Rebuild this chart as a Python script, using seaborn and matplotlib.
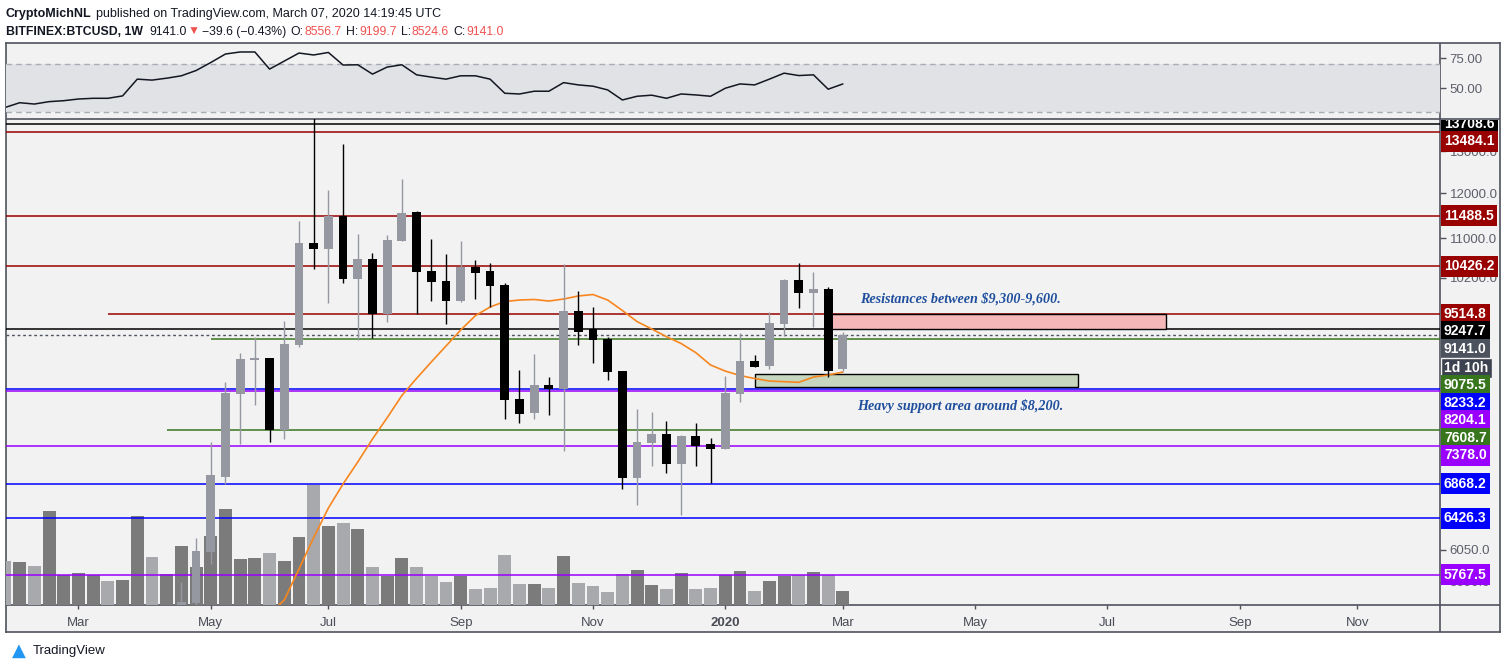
import matplotlib
matplotlib.use("Agg")
import matplotlib.pyplot as plt
import matplotlib.transforms as mtransforms
from matplotlib.patches import Rectangle
from matplotlib.ticker import FixedLocator, NullLocator
import numpy as np
import pandas as pd
import seaborn as sns

# ---------------- data (weekly BITFINEX:BTCUSD) ----------------
first_week = "2019-01-28"   # first weekly bar at the left edge
n_weeks = 98                # weeks spanned by the time axis

# candles visible in the price panel, week of 2019-04-22 .. 2020-03-02
candle_first = "2019-04-22"
opens = [5280, 5466, 6029, 6962, 8165, 8711, 8744, 7620, 8964, 10903, 10785, 11483,
         10181, 10573, 9509, 10950, 11571, 10333, 10136, 9754, 10418, 10333, 10065,
         8082, 7872, 8302, 8239, 9569, 9239, 9068, 8527, 6944, 7432, 7561, 7137, 7528,
         7413, 7342, 8160, 8693, 8609, 9332, 10155, 9911, 9981, 8556.7]
highs = [5692, 6193, 7442, 8345, 8828, 9103, 8744, 9388, 11373, 13880, 12071, 13185,
         11093, 10696, 11072, 12329, 11600, 10987, 10675, 10945, 10553, 10492, 10092,
         8545, 8806, 8430, 10472, 9943, 9643, 9098, 8527, 7928, 7882, 7748, 7543, 7718,
         7499, 8446, 9173, 8794, 9551, 10175, 10492, 10313, 10020, 9199.7]
lows = [5200, 5400, 5884, 6866, 7418, 7989, 7446, 7489, 8930, 10379, 9722, 10102,
        9056, 9091, 9374, 10950, 9509, 9760, 9338, 9741, 9798, 9649, 7777,
        7722, 7777, 7838, 7314, 8964, 8660, 8386, 6800, 6594, 7106, 7012, 6469, 7106,
        6878, 7342, 8036, 8598, 8561, 9121, 9625, 9279, 8430, 8524.6]
closes = [5477, 6037, 6985, 8175, 8727, 8744, 7620, 8982, 10903, 10785, 11483, 10181,
          10573, 9509, 10966, 11549, 10318, 10122, 9760, 10418, 10299, 10046, 8067,
          7853, 8302, 8239, 9569, 9196, 9056, 8516, 6944, 7442, 7561, 7137, 7528, 7385,
          7347, 8175, 8693, 8598, 9351, 10155, 9905, 9981, 8527, 9141.0]

# 20 week moving average (orange), from the week of 2019-06-03
ma_first = "2019-06-03"
ma20 = [5350, 5495, 5832, 6195, 6556, 6866, 7162, 7485, 7797, 8137, 8408, 8677, 8947,
        9226, 9484, 9643, 9745, 9773, 9783, 9754, 9792, 9849, 9877, 9773, 9578, 9377,
        9244, 9109, 8990, 8833, 8627, 8527, 8455, 8406, 8366, 8355, 8345, 8430, 8463, 8511]

# volume per week from the first week (arbitrary units)
volume = [44, 43, 39, 94, 30, 32, 30, 24, 25, 89, 48, 31, 59, 38,
          69, 96, 46, 47, 52, 44, 68, 120, 79, 82, 76, 38, 29, 47, 38,
          29, 23, 29, 16, 17, 50, 21, 21, 17, 49, 22, 19, 13, 31,
          35, 20, 16, 32, 16, 17, 30, 34, 14, 24, 29, 30, 33, 30, 14]
# up/down weeks before the first visible candle
early_up = [False, True, False, True, True, True, True, False, True, True, False, True]

# RSI per week from the first week
rsi = [33.7, 37.7, 36.6, 38.6, 39.4, 40.8, 41.4, 41.4, 43.4, 57.4, 56.6, 58.2, 60.2, 64.6,
       71.3, 78.4, 80.1, 80.1, 65.8, 72.5, 79.2, 77.6, 79.7, 69.2, 69.4, 61.6, 67.5, 69.4,
       61.0, 59.1, 57.4, 60.2, 60.2, 57.4, 45.6, 45.0, 47.3, 47.3, 54.5, 52.6, 51.5, 48.4,
       40.0, 43.1, 44.0, 41.4, 45.0, 44.2, 43.1, 49.8, 53.4, 52.6, 57.4, 62.4, 60.4, 61.0,
       49.0, 53.4]

# horizontal levels drawn on the chart
levels = [13708.6, 13484.1, 11488.5, 10426.2, 9514.8, 9247.7, 9075.5,
          8233.2, 8204.1, 7608.7, 7378.0, 6868.2, 6426.3, 5767.5]
level_colors = ["#000000", "#990000", "#990000", "#990000", "#990000", "#000000", "#38761d",
                "#0000ff", "#9900ff", "#38761d", "#9900ff", "#0000ff", "#0000ff", "#9900ff"]
level_from = [None, None, None, None, "2019-03-18", None, "2019-05-06",
              None, None, "2019-04-15", None, None, None, None]

current_price = 9141.0
countdown = "1d 10h"

resist_zone = (9247.7, 9514.8)
resist_weeks = ("2020-02-24", "2020-08-03")
support_zone = (8266, 8475)
support_weeks = ("2020-01-20", "2020-06-22")

price_ticks = [13000, 12000, 11000, 10200, 6050, 5690]

# ---------------- style ----------------
sns.set_theme(style="white")
plt.rcParams["font.family"] = ["Liberation Sans", "DejaVu Sans"]

bg = "#f2f2f2"
edge = "#50535e"
up_color, down_color = "#9598a1", "#000000"
vol_up_color, vol_down_color = "#7b7b7b", "#a8a9ac"

W, H = 1508, 669
fig = plt.figure(figsize=(W / 100, H / 100), dpi=100, facecolor="white")


def box(l, t, r, b):
    return [l / W, 1 - b / H, (r - l) / W, (b - t) / H]


weeks = pd.date_range(first_week, periods=n_weeks, freq="W-MON")


def pos(d):
    return weeks.get_loc(pd.Timestamp(d))


xlim = (0.07, 97.62)
ylim = (5448, 13833)

# header + logo
ax_bg = fig.add_axes([0, 0, 1, 1])
ax_bg.axis("off")
ax_bg.set_xlim(0, W)
ax_bg.set_ylim(H, 0)


def chain(parts, x, y, size):
    prev = None
    for s, weight, color, gap in parts:
        if prev is None:
            prev = ax_bg.text(x, y, s, fontsize=size, fontweight=weight, color=color,
                              va="baseline", ha="left")
        else:
            prev = ax_bg.annotate(s, xy=(1, 0), xycoords=prev, xytext=(gap, 0),
                                  textcoords="offset pixels", fontsize=size,
                                  fontweight=weight, color=color, va="bottom", ha="left")


dark, red = "#131722", "#ef5350"
chain([("CryptoMichNL", "bold", dark, 0),
       ("published on TradingView.com, March 07, 2020 14:19:45 UTC", "normal", dark, 4)],
      6, 16.5, 9)
chain([("BITFINEX:BTCUSD, 1W", "bold", dark, 0),
       ("9141.0", "normal", dark, 6), ("▼", "normal", red, 1),
       ("−39.6 (−0.43%)", "normal", dark, 3),
       ("O:", "normal", dark, 4), ("8556.7", "normal", red, 1),
       ("H:", "normal", dark, 4), ("9199.7", "normal", red, 1),
       ("L:", "normal", dark, 4), ("8524.6", "normal", red, 1),
       ("C:", "normal", dark, 4), ("9141.0", "normal", red, 1)],
      6, 35, 8.8)
ax_bg.text(19, 651, "▲", fontsize=13, color="#2196f3", ha="center", va="center",
           family="DejaVu Sans")
ax_bg.text(33, 651, "TradingView", fontsize=9.5, color=dark, ha="left", va="center")

# frame and separators
ax_frame = fig.add_axes(box(6, 43, 1500, 632))
ax_frame.set_facecolor(bg)
ax_frame.set_xticks([])
ax_frame.set_yticks([])
for s in ax_frame.spines.values():
    s.set_color(edge)
    s.set_linewidth(1.2)
ax_frame.set_xlim(6, 1500)
ax_frame.set_ylim(632, 43)
ax_frame.plot([6, 1500], [119, 119], color=edge, lw=1.2)
ax_frame.plot([6, 1500], [604.5, 604.5], color=edge, lw=1.2)
ax_frame.plot([1440, 1440], [43, 632], color=edge, lw=1.2)

# RSI panel
ax_rsi = fig.add_axes(box(6, 43, 1440, 119))
ax_rsi.patch.set_visible(False)
ax_rsi.axhspan(30, 70, color="#e1e2e6", lw=0, zorder=0)
for lvl in (70, 30):
    ax_rsi.axhline(lvl, color="#a9acb5", lw=1, ls=(0, (4, 3)), zorder=1)
sns.lineplot(x=np.arange(len(rsi)), y=rsi, ax=ax_rsi, color="#131722", lw=1.1, zorder=3)
ax_rsi.set_xlim(xlim)
ax_rsi.set_ylim(24.1, 87.6)
ax_rsi.set_xticks([])
ax_rsi.yaxis.tick_right()
ax_rsi.set_yticks([75, 50], ["75.00", "50.00"])
ax_rsi.tick_params(axis="y", length=4, width=1, color=edge, pad=3,
                   labelsize=9.5, labelcolor="#5d606b")
for s in ax_rsi.spines.values():
    s.set_visible(False)

# volume (drawn underneath the price panel)
ax_vol = fig.add_axes(box(6, 119, 1440, 604.5))
ax_vol.patch.set_visible(False)
vol_up = early_up + [c >= o for o, c in zip(opens, closes)]
ax_vol.bar(np.arange(len(volume)), volume, width=0.88,
           color=[vol_up_color if u else vol_down_color for u in vol_up], lw=0)
ax_vol.set_xlim(xlim)
ax_vol.set_ylim(0, 485.5)
ax_vol.axis("off")

# price panel
ax = fig.add_axes(box(6, 119, 1440, 604.5))
ax.patch.set_visible(False)
ax.set_yscale("log")

for p, c, start in zip(levels, level_colors, level_from):
    xs = xlim[0] if start is None else pos(start)
    ax.hlines(p, xs, xlim[1], color=c, lw=1.1, zorder=2)
ax.axhline(current_price, color="#4c525e", lw=1, ls=(0, (2, 2)), zorder=2)

for (plo, phi), (d0, d1), fc in [(resist_zone, resist_weeks, "#f5b7b7"),
                                 (support_zone, support_weeks, "#c6d6bf")]:
    ax.add_patch(Rectangle((pos(d0), plo), pos(d1) - pos(d0), phi - plo,
                           fc=fc, ec="black", lw=1, zorder=2.5))

sns.lineplot(x=pos(ma_first) + np.arange(len(ma20)), y=ma20, ax=ax,
             color="#f7861e", lw=1.2, zorder=3)

o, h, l, c = (np.array(v, dtype=float) for v in (opens, highs, lows, closes))
xc = pos(candle_first) + np.arange(len(o))
col = np.where(c >= o, up_color, down_color)
ax.vlines(xc, l, h, colors=col, lw=1, zorder=4)
ax.bar(xc, np.abs(c - o), bottom=np.minimum(o, c), width=0.6, color=col, lw=0, zorder=5)

note = dict(ha="center", va="center", color="#1f4e9d", fontsize=10.2, fontweight="bold",
            fontstyle="italic", family="Liberation Serif", zorder=6)
ax.text(65, 9790, "Resistances between $9,300-9,600.", **note)
ax.text(65, 7975, "Heavy support area around $8,200.", **note)

ax.set_xlim(xlim)
ax.set_ylim(ylim)
for s in ax.spines.values():
    s.set_visible(False)

# time axis
tick_pos, tick_lab = [], []
for i in range(1, n_weeks):
    d, prev = weeks[i], weeks[i - 1]
    if d.month != prev.month and d.month % 2 == 1:
        tick_pos.append(i)
        tick_lab.append(str(d.year) if d.month == 1 else d.strftime("%b"))
ax.set_xticks(tick_pos, tick_lab)
ax.xaxis.set_minor_locator(NullLocator())
ax.tick_params(axis="x", bottom=True, length=3, width=1, color=edge, pad=6,
               labelsize=9.5, labelcolor="#4a4d57")
for lbl in ax.get_xticklabels():
    if lbl.get_text() == "2020":
        lbl.set_fontweight("bold")

# price scale
ax.yaxis.tick_right()
ax.yaxis.set_major_locator(FixedLocator(price_ticks))
ax.yaxis.set_minor_locator(NullLocator())
ax.set_yticklabels([f"{v:.1f}" for v in price_ticks])
ax.tick_params(axis="y", right=True, length=4, width=1, color=edge, pad=3,
               labelsize=9.5, labelcolor="#5d606b")

# coloured price labels, pushed down so they do not overlap
tags = [(p, f"{p:.1f}", cl) for p, cl in zip(levels, level_colors)]
tags.append((current_price, f"{current_price:.1f}", "#4c525e"))
tags.sort(key=lambda t: t[0], reverse=True)
k = [t[0] for t in tags].index(current_price)
tags.insert(k + 1, (None, countdown, "#3d4250"))

log_lo, log_hi = np.log(ylim)
panel_h = 485.5
lab_h = 17.5
lab_tr = mtransforms.offset_copy(ax.transAxes, fig=fig, x=4, y=0, units="dots")
clip = mtransforms.TransformedBbox(
    mtransforms.Bbox.from_extents(1440.5 / W, 1 - 604.5 / H, 1500 / W, 1 - 119.5 / H),
    fig.transFigure)
prev_y = -1e9
for p, s, cl in tags:
    if p is None:
        y = prev_y + lab_h + 1.5
    else:
        y_line = (log_hi - np.log(p)) / (log_hi - log_lo) * panel_h
        y = max(y_line, prev_y + lab_h)
    prev_y = y
    t = ax.text(1.0, 1 - y / panel_h, s, transform=lab_tr, ha="left", va="center",
                color="white", fontsize=10, fontweight="bold", zorder=10,
                bbox=dict(boxstyle="square,pad=0.25", fc=cl,
                          ec="#f2f2f2" if p is None else "none", lw=1))
    t.set_clip_path(None)
    t.set_clip_box(clip)
    t.set_clip_on(True)

fig.savefig("out.png", dpi=100)
